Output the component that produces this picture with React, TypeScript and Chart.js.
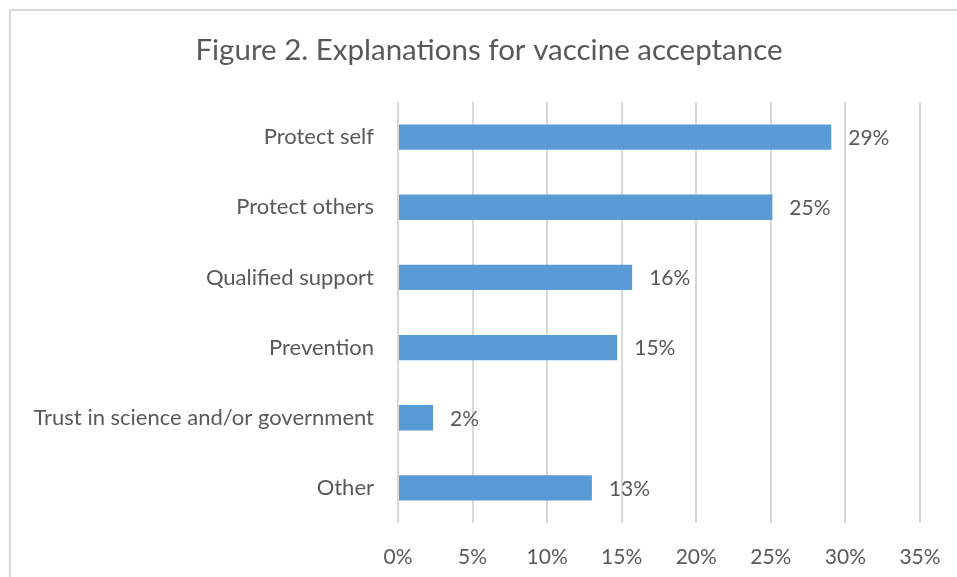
import React, { useEffect, useRef } from "react";
import { Chart, registerables } from "chart.js";

Chart.register(...registerables);

const TITLE = "Figure 2. Explanations for vaccine acceptance";
const categories = [
  "Protect self",
  "Protect others",
  "Qualified support",
  "Prevention",
  "Trust in science and/or government",
  "Other",
];
const shares = [29.05, 25.1, 15.7, 14.7, 2.35, 13.0];
const xTicks = [0, 5, 10, 15, 20, 25, 30, 35];

const FONT = "Lato, 'Open Sans', sans-serif";
const TEXT = "#595959";
const BAR = "#5B9BD5";
const GRID = "#d9d9d9";

// Chart frame and centred title.
const framePlugin = {
  id: "frame",
  beforeDraw(chart: any) {
    const { ctx, width, height } = chart;
    ctx.save();
    ctx.fillStyle = "#ffffff";
    ctx.fillRect(0, 0, width, height);
    ctx.strokeStyle = GRID;
    ctx.lineWidth = 2;
    ctx.strokeRect(10, 10, width + 40, height + 40);
    ctx.fillStyle = TEXT;
    ctx.font = `29.5px ${FONT}`;
    ctx.textAlign = "center";
    ctx.textBaseline = "middle";
    ctx.fillText(TITLE, 489, 50);
    ctx.restore();
  },
};

// Percentage labels just past the end of each bar.
const valueLabels = {
  id: "valueLabels",
  afterDatasetsDraw(chart: any) {
    const { ctx } = chart;
    const meta = chart.getDatasetMeta(0);
    ctx.save();
    ctx.fillStyle = TEXT;
    ctx.font = `21px ${FONT}`;
    ctx.textAlign = "left";
    ctx.textBaseline = "middle";
    meta.data.forEach((bar: any, i: number) => {
      const v = chart.data.datasets[0].data[i] as number;
      ctx.fillText(`${Math.round(v)}%`, bar.x + 17, bar.y + 1);
    });
    ctx.restore();
  },
};

export default function App() {
  const ref = useRef<HTMLCanvasElement | null>(null);

  useEffect(() => {
    if (!ref.current) return;
    const chart = new Chart(ref.current, {
      type: "bar",
      data: {
        labels: categories,
        datasets: [
          {
            data: shares,
            backgroundColor: BAR,
            borderWidth: 0,
            barPercentage: 0.36,
            categoryPercentage: 1,
          },
        ],
      },
      options: {
        indexAxis: "y",
        responsive: false,
        animation: false,
        layout: { padding: { top: 102, right: 37, left: 0, bottom: 0 } },
        plugins: {
          legend: { display: false },
          tooltip: { enabled: false },
          title: { display: false },
        },
        scales: {
          x: {
            min: 0,
            max: 35,
            afterBuildTicks(scale: any) {
              scale.ticks = xTicks.map((v) => ({ value: v }));
            },
            afterFit(scale: any) {
              scale.height = 54;
              scale.paddingLeft = 0;
              scale.paddingRight = 0;
            },
            grid: {
              color: GRID,
              lineWidth: 2,
              drawTicks: false,
            },
            border: { display: false },
            ticks: {
              padding: 22,
              color: TEXT,
              font: { family: FONT, size: 21 },
              callback: (v: any) => `${v}%`,
            },
          },
          y: {
            afterFit(scale: any) {
              scale.width = 398;
            },
            grid: { display: false, drawTicks: false },
            border: { display: false },
            ticks: {
              padding: 24,
              color: TEXT,
              font: { family: FONT, size: 22 },
            },
          },
        },
      },
      plugins: [framePlugin, valueLabels],
    });
    return () => chart.destroy();
  }, []);

  return (
    <div style={{ position: "fixed", left: 0, top: 0, width: 957, height: 577 }}>
      <canvas ref={ref} width={957} height={577} style={{ display: "block" }} />
    </div>
  );
}
